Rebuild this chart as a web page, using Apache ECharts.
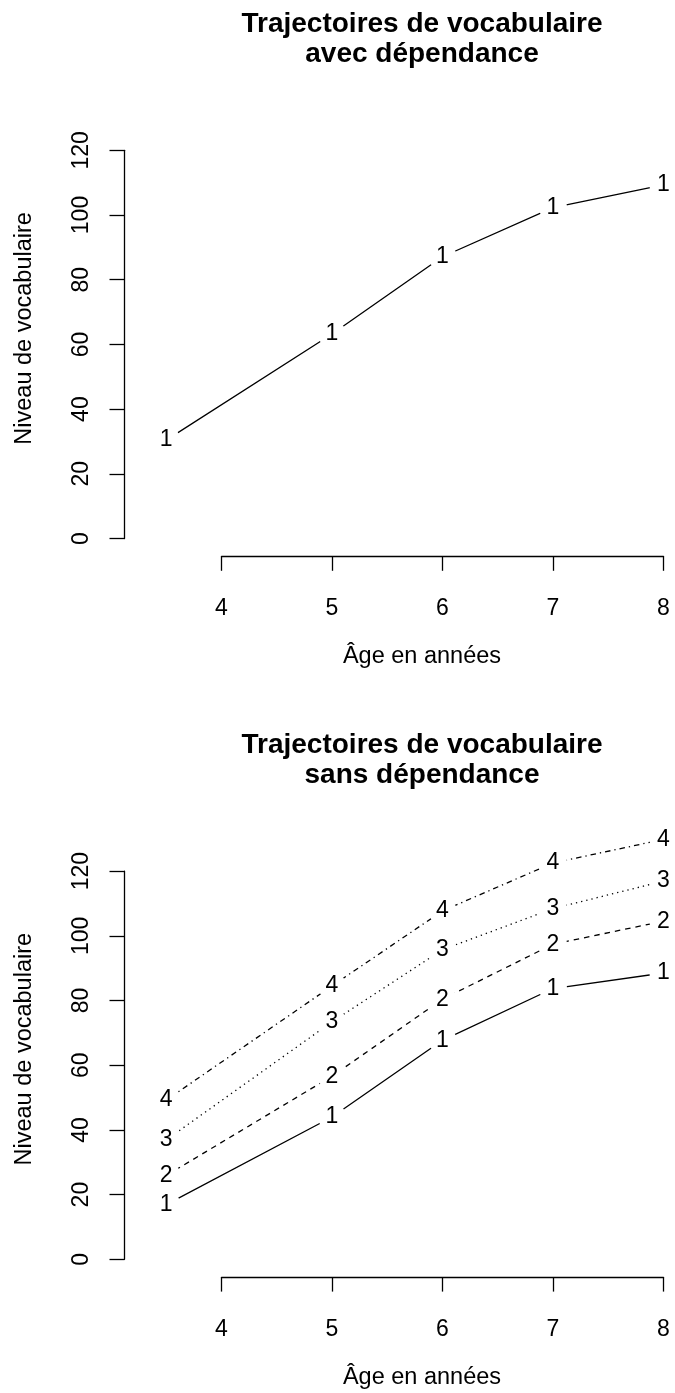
<!DOCTYPE html>
<html>
<head>
<meta charset="utf-8">
<title>Trajectoires de vocabulaire</title>
<script src="https://cdn.jsdelivr.net/npm/echarts@6/dist/echarts.min.js"></script>
<style>
  html, body { margin: 0; padding: 0; background: #fff; }
  #chart { width: 675px; height: 1393px; }
</style>
</head>
<body>
<div id="chart"></div>
<script>
// Ages (years) at which vocabulary is measured
const ages = [3.5, 5, 6, 7, 8];

// Panel 1: one trajectory (with dependence)
const avecDependance = [30.4, 63.2, 87.1, 102.3, 109.3];

// Panel 2: four trajectories (without dependence)
const sansDep1 = [16.9, 44.0, 67.7, 83.7, 88.5];
const sansDep2 = [25.9, 56.6, 80.4, 97.4, 104.5];
const sansDep3 = [36.9, 73.4, 95.7, 108.4, 116.9];
const sansDep4 = [49.2, 84.5, 107.7, 122.5, 129.8];

// Text
const titreAvec = 'Trajectoires de vocabulaire\navec dépendance';
const titreSans = 'Trajectoires de vocabulaire\nsans dépendance';
const labelX = 'Âge en années';
const labelY = 'Niveau de vocabulaire';

const FONT = '"Liberation Sans", Arial, Helvetica, sans-serif';
const INK = '#000';
const LW = 1.3;
const FS = 23;          // tick labels and point numbers
const FS_AXIS = 23.5;   // axis titles
const FS_MAIN = 28;     // panel titles

// Line types in the spirit of R's lty 1..4
const lineTypes = ['solid', [5.5, 5], [1.3, 4], [1.3, 4, 5.5, 4]];

// Scale shared by the axis frame and the plotting frame
const PX_PER_YEAR = 110.5;
const PX_PER_UNIT = 3.235;
const X4_PX = 221.5;     // pixel of age 4
const Y120_PX = 150.3;   // pixel of level 120 (first panel)
const PANEL_SHIFT = 720.8;
const CENTER_X = 422;    // centre of the plotting region

// Axis frame: axes drawn only over 4..8 and 0..120
const AX = { xmin: 4, xmax: 8, ymin: 0, ymax: 120 };
// Plotting frame: wider, so marks at age 3.5 or above 120 are not cut
const PL = { xmin: 3, xmax: 8.1, ymin: -10, ymax: 140 };

function gridFrom(r, i) {
  return {
    left: X4_PX + (r.xmin - 4) * PX_PER_YEAR,
    width: (r.xmax - r.xmin) * PX_PER_YEAR,
    top: Y120_PX - (r.ymax - 120) * PX_PER_UNIT + i * PANEL_SHIFT,
    height: (r.ymax - r.ymin) * PX_PER_UNIT,
    containLabel: false
  };
}

function xAxisFor(i) {
  return {
    gridIndex: i, type: 'value', min: AX.xmin, max: AX.xmax, interval: 1, offset: 17.8,
    axisLine: { show: true, onZero: false, lineStyle: { color: INK, width: LW } },
    axisTick: { show: true, length: 14.5, lineStyle: { color: INK, width: LW } },
    axisLabel: { margin: 41, fontSize: FS, color: INK, fontFamily: FONT },
    splitLine: { show: false }
  };
}

function yAxisFor(i) {
  return {
    gridIndex: i, type: 'value', min: AX.ymin, max: AX.ymax, interval: 20, offset: 97,
    axisLine: { show: true, onZero: false, lineStyle: { color: INK, width: LW } },
    axisTick: { show: true, length: 15, lineStyle: { color: INK, width: LW } },
    axisLabel: { rotate: 90, margin: 31, fontSize: FS, color: INK, fontFamily: FONT },
    splitLine: { show: false },
    name: labelY, nameLocation: 'middle', nameRotate: 90, nameGap: 87.5,
    // left padding lifts the title so it sits at the middle of the plotting region
    nameTextStyle: { fontSize: FS_AXIS, color: INK, fontFamily: FONT, padding: [0, 0, 0, 32] }
  };
}

function hiddenAxis(i, lo, hi) {
  return { gridIndex: i, type: 'value', min: lo, max: hi, show: false, splitLine: { show: false } };
}

// One trajectory: line segments broken around each numbered point
function trajectoire(num, values, panel) {
  return {
    type: 'line', name: String(num),
    xAxisIndex: 2 + panel, yAxisIndex: 2 + panel,
    data: ages.map((a, k) => [a, values[k]]),
    clip: false,
    symbol: 'circle', symbolSize: 28,
    itemStyle: { color: '#fff', borderWidth: 0 },
    lineStyle: { color: INK, width: LW, type: lineTypes[num - 1] },
    label: {
      show: true, position: 'inside', formatter: '{a}',
      fontSize: FS, color: INK, fontFamily: FONT
    },
    emphasis: { disabled: true },
    silent: true
  };
}

function titre(text, top) {
  return {
    text: text, left: CENTER_X, top: top, textAlign: 'center', padding: 0,
    textStyle: { fontSize: FS_MAIN, fontWeight: 'bold', color: INK, fontFamily: FONT, lineHeight: 29.5 }
  };
}

function axisTitle(text, top) {
  return {
    text: text, left: CENTER_X, top: top, textAlign: 'center', padding: 0,
    textStyle: { fontSize: FS_AXIS, fontWeight: 'normal', color: INK, fontFamily: FONT, lineHeight: FS_AXIS }
  };
}

const chart = echarts.init(document.getElementById('chart'), null, { renderer: 'canvas' });
chart.setOption({
  animation: false,
  backgroundColor: '#fff',
  title: [
    titre(titreAvec, 10),
    axisTitle(labelX, 645),
    titre(titreSans, 10 + PANEL_SHIFT),
    axisTitle(labelX, 645 + PANEL_SHIFT)
  ],
  grid: [gridFrom(AX, 0), gridFrom(AX, 1), gridFrom(PL, 0), gridFrom(PL, 1)],
  xAxis: [xAxisFor(0), xAxisFor(1), hiddenAxis(2, PL.xmin, PL.xmax), hiddenAxis(3, PL.xmin, PL.xmax)],
  yAxis: [yAxisFor(0), yAxisFor(1), hiddenAxis(2, PL.ymin, PL.ymax), hiddenAxis(3, PL.ymin, PL.ymax)],
  series: [
    trajectoire(1, avecDependance, 0),
    trajectoire(1, sansDep1, 1),
    trajectoire(2, sansDep2, 1),
    trajectoire(3, sansDep3, 1),
    trajectoire(4, sansDep4, 1)
  ]
});
</script>
</body>
</html>
